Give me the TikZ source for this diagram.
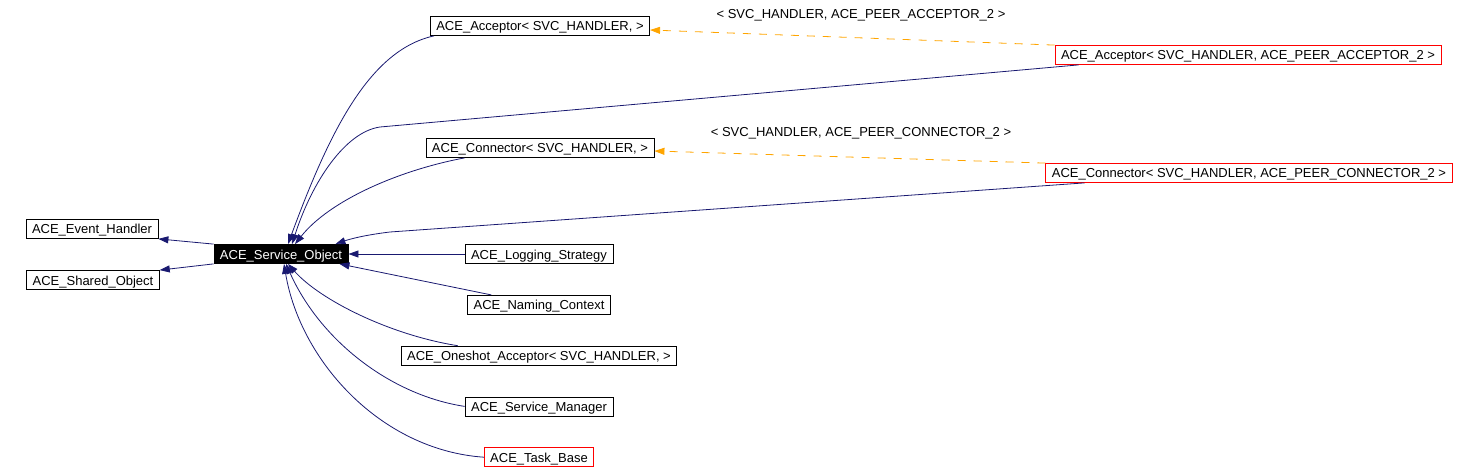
\documentclass[tikz,border=0pt]{standalone}
\usepackage{fontspec}
\setmainfont{Liberation Sans}
\usetikzlibrary{arrows.meta,positioning}
\definecolor{edgeblue}{HTML}{191970}
\definecolor{edgeorange}{HTML}{FFA500}

\begin{document}
\begin{tikzpicture}[->,>={Triangle[length=10pt,width=7pt]},x=1pt,y=-1pt,line width=0.8pt,node distance=31pt,font=\fontsize{13}{15}\selectfont]
                \tikzstyle{class}=[draw=black,rectangle,minimum height=19pt,text height=10pt,text depth=0pt,inner xsep=6pt,inner ysep=0pt,text=black]
                \tikzstyle{undoc}=[class,draw=red]
                \tikzstyle{self}=[class,fill=black,text=white]
                \tikzstyle{inherit}=[draw=edgeblue]
                \tikzstyle{instance}=[draw=edgeorange,dash pattern=on 8pt off 8pt]
                \tikzstyle{tmpl-label}=[inner sep=0pt,text=black]

                \useasboundingbox (0,0) rectangle (1478,473);

                \node[class] at (92,229)  (eh)  {ACE\_Event\_Handler};
                \node[self]  at (281,254) (svc) {ACE\_Service\_Object};
                \node[class] at (93,280)  (so)  {ACE\_Shared\_Object};

                \node[class] at (540,26)  (acc)  {ACE\_Acceptor< SVC\_HANDLER, >};
                \node[undoc] at (1248,55) (acc2) {ACE\_Acceptor< SVC\_HANDLER, ACE\_PEER\_ACCEPTOR\_2 >};
                \node[tmpl-label] at (861,15) (acc-lbl) {< SVC\_HANDLER, ACE\_PEER\_ACCEPTOR\_2 >};
                \node[class] at (540,148) (con)  {ACE\_Connector< SVC\_HANDLER, >};
                \node[undoc] at (1249,173) (con2) {ACE\_Connector< SVC\_HANDLER, ACE\_PEER\_CONNECTOR\_2 >};
                \node[tmpl-label] at (861,133) (con-lbl) {< SVC\_HANDLER, ACE\_PEER\_CONNECTOR\_2 >};

                \node[class] at (539,254) (log) {ACE\_Logging\_Strategy};
                \node[class] (nam)  [below=of log] {ACE\_Naming\_Context};
                \node[class] (one)  [below=of nam] {ACE\_Oneshot\_Acceptor< SVC\_HANDLER, >};
                \node[class] (mgr)  [below=of one] {ACE\_Service\_Manager};
                \node[undoc] (task) [below=of mgr] {ACE\_Task\_Base};

                \draw[inherit] (svc.north west) -- (eh.south east);
                \draw[inherit] (svc.south west) -- (so.north east);
                \draw[inherit] ([xshift=4pt]acc.south west) .. controls (370,50) and (330,130) .. ([xshift=7pt]svc.north);
                \draw[inherit] ([xshift=24pt]acc2.south west) -- (380,127) .. controls (345,132) and (312,182) .. ([xshift=11pt]svc.north);
                \draw[inherit] ([xshift=39pt]con.south west) .. controls (400,170) and (330,200) .. ([xshift=14pt]svc.north);
                \draw[inherit] ([xshift=39pt]con2.south west) -- (390,232) .. controls (365,235) and (350,239) .. ([xshift=-13pt]svc.north east);
                \draw[inherit] (log) -- (svc);
                \draw[inherit] ([xshift=24pt]nam.north west) -- ([xshift=-9pt]svc.south east);
                \draw[inherit] ([xshift=57pt]one.north west) .. controls (390,335) and (320,300) .. ([xshift=7pt]svc.south);
                \draw[inherit] (mgr.west) .. controls (390,395) and (320,340) .. ([xshift=5pt]svc.south);
                \draw[inherit] (task.west) .. controls (380,450) and (300,360) .. ([xshift=3pt]svc.south);

                \draw[instance] (acc2.north west) -- ([yshift=-4pt]acc.east);
                \draw[instance] (con2.north west) -- ([yshift=-3pt]con.east);
\end{tikzpicture}
\end{document}
